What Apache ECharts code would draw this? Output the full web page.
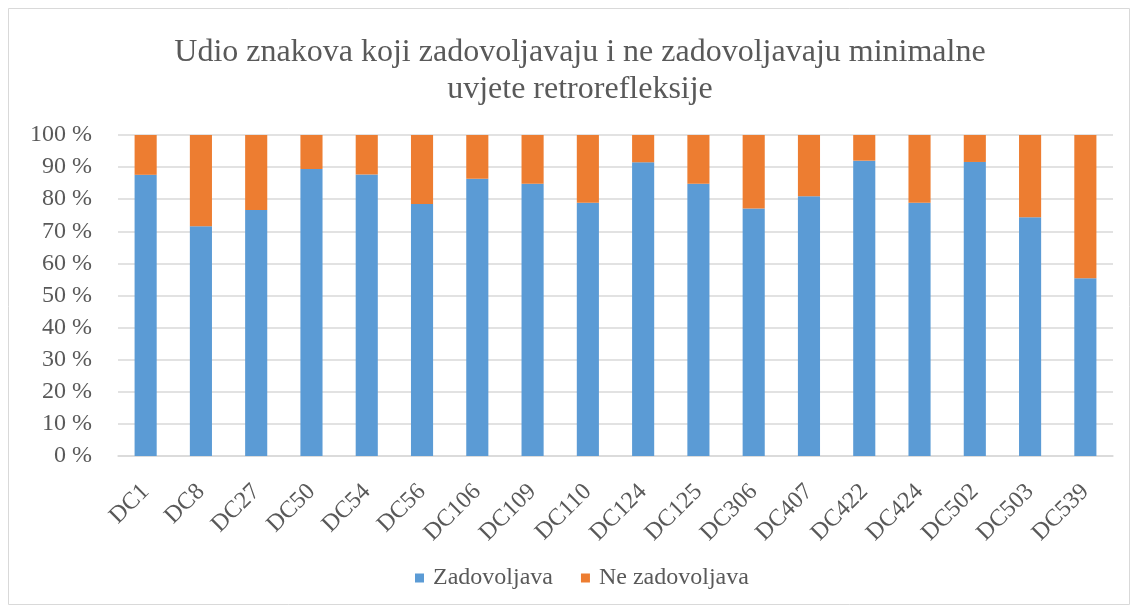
<!DOCTYPE html>
<html><head><meta charset="utf-8">
<script src="https://cdn.jsdelivr.net/npm/echarts@6/dist/echarts.min.js"></script>
<style>html,body{margin:0;padding:0;background:#fff}#c{width:1135px;height:611px}</style>
</head><body><div id="c"></div>
<script>
const categories = ['DC1','DC8','DC27','DC50','DC54','DC56','DC106','DC109','DC110','DC124','DC125','DC306','DC407','DC422','DC424','DC502','DC503','DC539'];
const zadovoljava = [87.6, 71.6, 76.6, 89.4, 87.7, 78.5, 86.4, 84.8, 78.9, 91.5, 84.8, 77.1, 80.9, 92.0, 78.9, 91.6, 74.4, 55.4];
const neZadovoljava = [12.4, 28.4, 23.4, 10.6, 12.3, 21.5, 13.6, 15.2, 21.1, 8.5, 15.2, 22.9, 19.1, 8.0, 21.1, 8.4, 25.6, 44.6];
const seriesNames = ['Zadovoljava', 'Ne zadovoljava'];
const titleText = 'Udio znakova koji zadovoljavaju i ne zadovoljavaju minimalne\nuvjete retrorefleksije';

const font = 'Liberation Serif';
const chart = echarts.init(document.getElementById('c'), null, {renderer: 'canvas'});
chart.setOption({
  animation: false,
  backgroundColor: '#fff',
  graphic: [{
    type: 'rect', shape: {x: 8.5, y: 8.5, width: 1121, height: 596},
    style: {fill: 'none', stroke: '#d9d9d9', lineWidth: 1}, silent: true, z: -1
  }],
  title: {
    text: titleText, left: 575, top: 29, textAlign: 'center',
    textStyle: {fontFamily: font, fontSize: 32, fontWeight: 'normal', color: '#595959', lineHeight: 37}
  },
  legend: {
    data: seriesNames, top: 561, left: 410, itemWidth: 9, itemHeight: 9, itemGap: 28,
    icon: 'rect',
    textStyle: {fontFamily: font, fontSize: 24, color: '#595959', padding: [0, 0, 0, 4]}
  },
  grid: {left: 118, right: 22, top: 135, bottom: 155},
  xAxis: {
    type: 'category', data: categories,
    axisLine: {lineStyle: {color: '#d9d9d9', width: 1.5}},
    axisTick: {show: false},
    axisLabel: {rotate: 45, margin: 32, fontFamily: font, fontSize: 24, color: '#595959', interval: 0}
  },
  yAxis: {
    type: 'value', min: 0, max: 100, interval: 10,
    axisLine: {show: false}, axisTick: {show: false},
    splitLine: {lineStyle: {color: '#d9d9d9', width: 1.5}},
    axisLabel: {formatter: '{value} %', fontFamily: font, fontSize: 24, color: '#595959', margin: 26}
  },
  series: [
    {name: seriesNames[0], type: 'bar', stack: 't', data: zadovoljava, barCategoryGap: '60%',
     itemStyle: {color: '#5B9BD5'}},
    {name: seriesNames[1], type: 'bar', stack: 't', data: neZadovoljava, barCategoryGap: '60%',
     itemStyle: {color: '#ED7D31'}}
  ]
});
</script></body></html>
